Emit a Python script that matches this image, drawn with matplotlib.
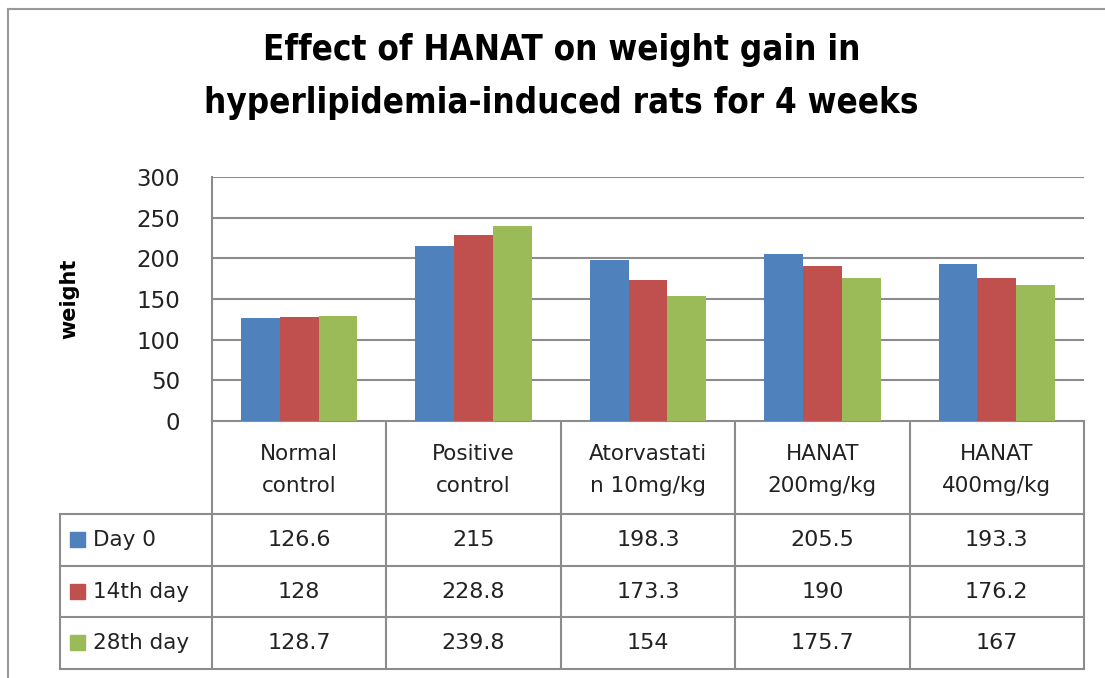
import matplotlib
matplotlib.use("Agg")
import matplotlib.pyplot as plt
from matplotlib.lines import Line2D
from matplotlib.patches import Rectangle

categories = ["Normal\ncontrol", "Positive\ncontrol", "Atorvastati\nn 10mg/kg",
              "HANAT\n200mg/kg", "HANAT\n400mg/kg"]
series_names = ["Day 0", "14th day", "28th day"]
day0 = [126.6, 215, 198.3, 205.5, 193.3]
day14 = [128, 228.8, 173.3, 190, 176.2]
day28 = [128.7, 239.8, 154, 175.7, 167]
day0_txt = ["126.6", "215", "198.3", "205.5", "193.3"]
day14_txt = ["128", "228.8", "173.3", "190", "176.2"]
day28_txt = ["128.7", "239.8", "154", "175.7", "167"]
yticks = [0, 50, 100, 150, 200, 250, 300]
title = "Effect of HANAT on weight gain in\nhyperlipidemia-induced rats for 4 weeks"

COLORS = ["#4F81BD", "#C0504D", "#9BBB59"]
GRID = "#8c8c8c"
W, H = 1105, 678

# layout in pixels (y from top)
PL, PR, PT, PB = 212, 1084, 177, 421
LEG_L = 60
ROW_Y = [421, 514, 566, 617, 669]


def fx(x):
    return x / W


def fy(y):
    return 1 - y / H


fig = plt.figure(figsize=(W / 100, H / 100), dpi=100)

# overlay axes in pixel coords for border + table
ov = fig.add_axes([0, 0, 1, 1])
ov.set_xlim(0, W)
ov.set_ylim(H, 0)
ov.axis("off")
ov.add_line(Line2D([8, W], [9, 9], color="#999999", lw=1.5))
ov.add_line(Line2D([8, 8], [9, H], color="#999999", lw=1.5))

# bar plot
ax = fig.add_axes([fx(PL), fy(PB), fx(PR - PL), (PB - PT) / H])
n = len(categories)
bw = 1 / 4.5
for k, vals in enumerate([day0, day14, day28]):
    xs = [i + 0.5 + (k - 1) * bw for i in range(n)]
    ax.bar(xs, vals, width=bw, color=COLORS[k], zorder=3)
ax.set_xlim(0, n)
ax.set_ylim(0, 300)
ax.set_yticks(yticks)
ax.set_xticks([])
ax.tick_params(axis="y", length=0, pad=23, labelsize=16.5, labelcolor="#222222")
ax.grid(axis="y", color=GRID, lw=1.5, zorder=0)
for s in ["top", "right", "bottom"]:
    ax.spines[s].set_visible(False)
ax.spines["left"].set_color(GRID)
ax.spines["left"].set_linewidth(1.5)
ax.set_ylabel("weight", fontsize=15, fontweight="bold", labelpad=41)

fig.text(0.508, fy(76.5), title, ha="center", va="center", fontsize=25,
         fontweight="bold", fontstretch="condensed", linespacing=1.72,
         family=["DejaVu Sans"])

# data table
colw = (PR - PL) / n
col_x = [PL + i * colw for i in range(n + 1)]
tbl_kw = dict(color=GRID, lw=1.5)
ov.add_line(Line2D([PL, PR], [ROW_Y[0], ROW_Y[0]], **tbl_kw))
for y in ROW_Y[1:]:
    ov.add_line(Line2D([LEG_L, PR], [y, y], **tbl_kw))
for x in col_x:
    ov.add_line(Line2D([x, x], [ROW_Y[0], ROW_Y[-1]], **tbl_kw))
ov.add_line(Line2D([LEG_L, LEG_L], [ROW_Y[1], ROW_Y[-1]], **tbl_kw))

for i, cat in enumerate(categories):
    ov.text((col_x[i] + col_x[i + 1]) / 2, (ROW_Y[0] + ROW_Y[1]) / 2 + 3, cat,
            ha="center", va="center", fontsize=15.5, color="#222222",
            linespacing=1.75)

rows_txt = [day0_txt, day14_txt, day28_txt]
for r, (name, txts) in enumerate(zip(series_names, rows_txt)):
    yc = (ROW_Y[r + 1] + ROW_Y[r + 2]) / 2
    ov.add_patch(Rectangle((70, yc - 8), 15, 15, color=COLORS[r]))
    ov.text(93, yc, name, ha="left", va="center", fontsize=15.5, color="#222222")
    for i, t in enumerate(txts):
        ov.text((col_x[i] + col_x[i + 1]) / 2, yc, t, ha="center",
                va="center", fontsize=16, color="#222222")

fig.savefig("out.png", dpi=100)
